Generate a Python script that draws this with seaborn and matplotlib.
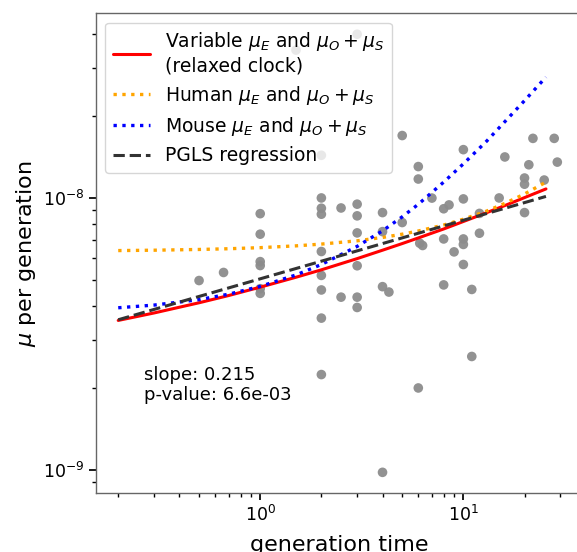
import matplotlib

matplotlib.use("Agg")

import matplotlib.pyplot as plt
import pandas as pd
import seaborn as sns

sns.set_theme(style="ticks")
plt.rcParams.update({
	"font.family": "DejaVu Sans",
	"text.color": "black",
	"axes.labelcolor": "black",
	"axes.edgecolor": "#666666",
	"axes.linewidth": 1.0,
	"xtick.color": "black",
	"ytick.color": "black",
	"xtick.labelcolor": "black",
	"ytick.labelcolor": "black",
	"xtick.direction": "out",
	"ytick.direction": "out",
	"xtick.major.size": 5,
	"ytick.major.size": 5,
	"xtick.minor.size": 3,
	"ytick.minor.size": 3,
	"mathtext.fontset": "dejavusans",
})

# observed species: generation time and mutation rate per generation
gen_time = [
	0.5, 0.66,
	1, 1, 1, 1, 1, 1,
	1.5,
	2, 2, 2, 2, 2, 2, 2, 2, 2,
	2.5, 2.5,
	3, 3, 3, 3, 3, 3, 3,
	4, 4, 4, 4,
	4.3,
	5, 5,
	6, 6, 6.1, 6,
	6.3, 7,
	8, 8, 8,
	8.5, 9,
	10, 10, 10, 10, 10,
	11, 11,
	12, 12,
	15, 16,
	20, 20, 20,
	21, 22, 25, 28, 29,
]
mu_obs = [
	4.96e-9, 5.31e-9,
	8.73e-9, 7.34e-9, 5.82e-9, 5.63e-9, 4.63e-9, 4.45e-9,
	3.48e-8,
	1.43e-8, 9.97e-9, 9.14e-9, 8.69e-9, 6.34e-9, 5.18e-9, 4.58e-9, 3.61e-9, 2.24e-9,
	9.16e-9, 4.31e-9,
	3.98e-8, 9.46e-9, 8.57e-9, 7.42e-9, 5.62e-9, 4.31e-9, 3.95e-9,
	8.81e-9, 7.5e-9, 4.71e-9, 9.8e-10,
	4.5e-9,
	1.69e-8, 8.1e-9,
	1.30e-8, 1.17e-8, 6.8e-9, 2.0e-9,
	6.67e-9, 9.96e-9,
	9.1e-9, 7.05e-9, 4.78e-9,
	9.4e-9, 6.32e-9,
	1.50e-8, 9.89e-9, 7.05e-9, 6.73e-9, 5.68e-9,
	4.6e-9, 2.61e-9,
	8.75e-9, 7.4e-9,
	9.97e-9, 1.41e-8,
	1.18e-8, 1.12e-8, 8.81e-9,
	1.32e-8, 1.65e-8, 1.16e-8, 1.65e-8, 1.35e-8,
]

curve_x = [0.2, 0.3, 0.5, 0.7, 1, 1.5, 2, 3, 4, 5, 6, 8, 10, 13, 16, 20, 25.5]
variable_mu = [3.54e-9, 3.77e-9, 4.11e-9, 4.37e-9, 4.69e-9, 5.10e-9, 5.43e-9, 5.97e-9,
	6.41e-9, 6.78e-9, 7.11e-9, 7.67e-9, 8.17e-9, 8.80e-9, 9.35e-9, 1.00e-8, 1.076e-8]
human_mu = [6.39e-9, 6.41e-9, 6.45e-9, 6.49e-9, 6.55e-9, 6.65e-9, 6.75e-9, 6.94e-9,
	7.14e-9, 7.34e-9, 7.54e-9, 7.93e-9, 8.33e-9, 8.92e-9, 9.52e-9, 1.031e-8, 1.14e-8]
mouse_mu = [3.94e-9, 4.03e-9, 4.22e-9, 4.42e-9, 4.72e-9, 5.2e-9, 5.68e-9, 6.62e-9,
	7.55e-9, 8.5e-9, 9.45e-9, 1.14e-8, 1.33e-8, 1.61e-8, 1.90e-8, 2.27e-8, 2.77e-8]

# PGLS fit endpoints
pgls_x = [0.2, 25.5]
pgls_mu = [3.56e-9, 1.01e-8]
pgls_slope = 0.215
pgls_pvalue = 6.6e-3

obs_df = pd.DataFrame({"gen_time": gen_time, "mu": mu_obs})

fig = plt.figure(figsize=(5.77, 5.52), dpi=100)
ax = fig.add_axes([0.1659, 0.1069, 0.8433, 0.869])

sns.scatterplot(data=obs_df, x="gen_time", y="mu", color="#8c8c8c", s=48,
	edgecolor="none", alpha=0.95, legend=False, zorder=1, ax=ax)

sns.lineplot(x=curve_x, y=variable_mu, color="red", linewidth=2.2,
	label=r"Variable $\mu_E$ and $\mu_O+\mu_S$" + "\n(relaxed clock)", ax=ax, zorder=3)
sns.lineplot(x=curve_x, y=human_mu, color="orange", linewidth=2.4, linestyle=":",
	label=r"Human $\mu_E$ and $\mu_O+\mu_S$", ax=ax, zorder=3)
sns.lineplot(x=curve_x, y=mouse_mu, color="blue", linewidth=2.4, linestyle=":",
	label=r"Mouse $\mu_E$ and $\mu_O+\mu_S$", ax=ax, zorder=3)
sns.lineplot(x=pgls_x, y=pgls_mu, color="#333333", linewidth=2.2, linestyle="--",
	dashes=(4, 2), label="PGLS regression", ax=ax, zorder=3)

ax.set_xscale("log")
ax.set_yscale("log")
ax.set_xlim(0.155, 38.5)
ax.set_ylim(8.23e-10, 4.75e-8)

ax.set_xlabel("generation time", fontsize=16, labelpad=7)
ax.set_ylabel(r"$\mu$ per generation", fontsize=16, labelpad=3)
ax.tick_params(axis="both", which="major", labelsize=12.5)

ax.text(0.1, 0.225, f"slope: {pgls_slope}\np-value: {pgls_pvalue:.1e}",
	transform=ax.transAxes, fontsize=13, va="center", ha="left")

ax.legend(loc="upper left", fontsize=13.5, frameon=True, fancybox=True,
	framealpha=0.8, edgecolor="0.8", handlelength=2.0, borderpad=0.4,
	labelspacing=0.45)

fig.savefig("out.png", dpi=100, facecolor="white")
plt.close(fig)
